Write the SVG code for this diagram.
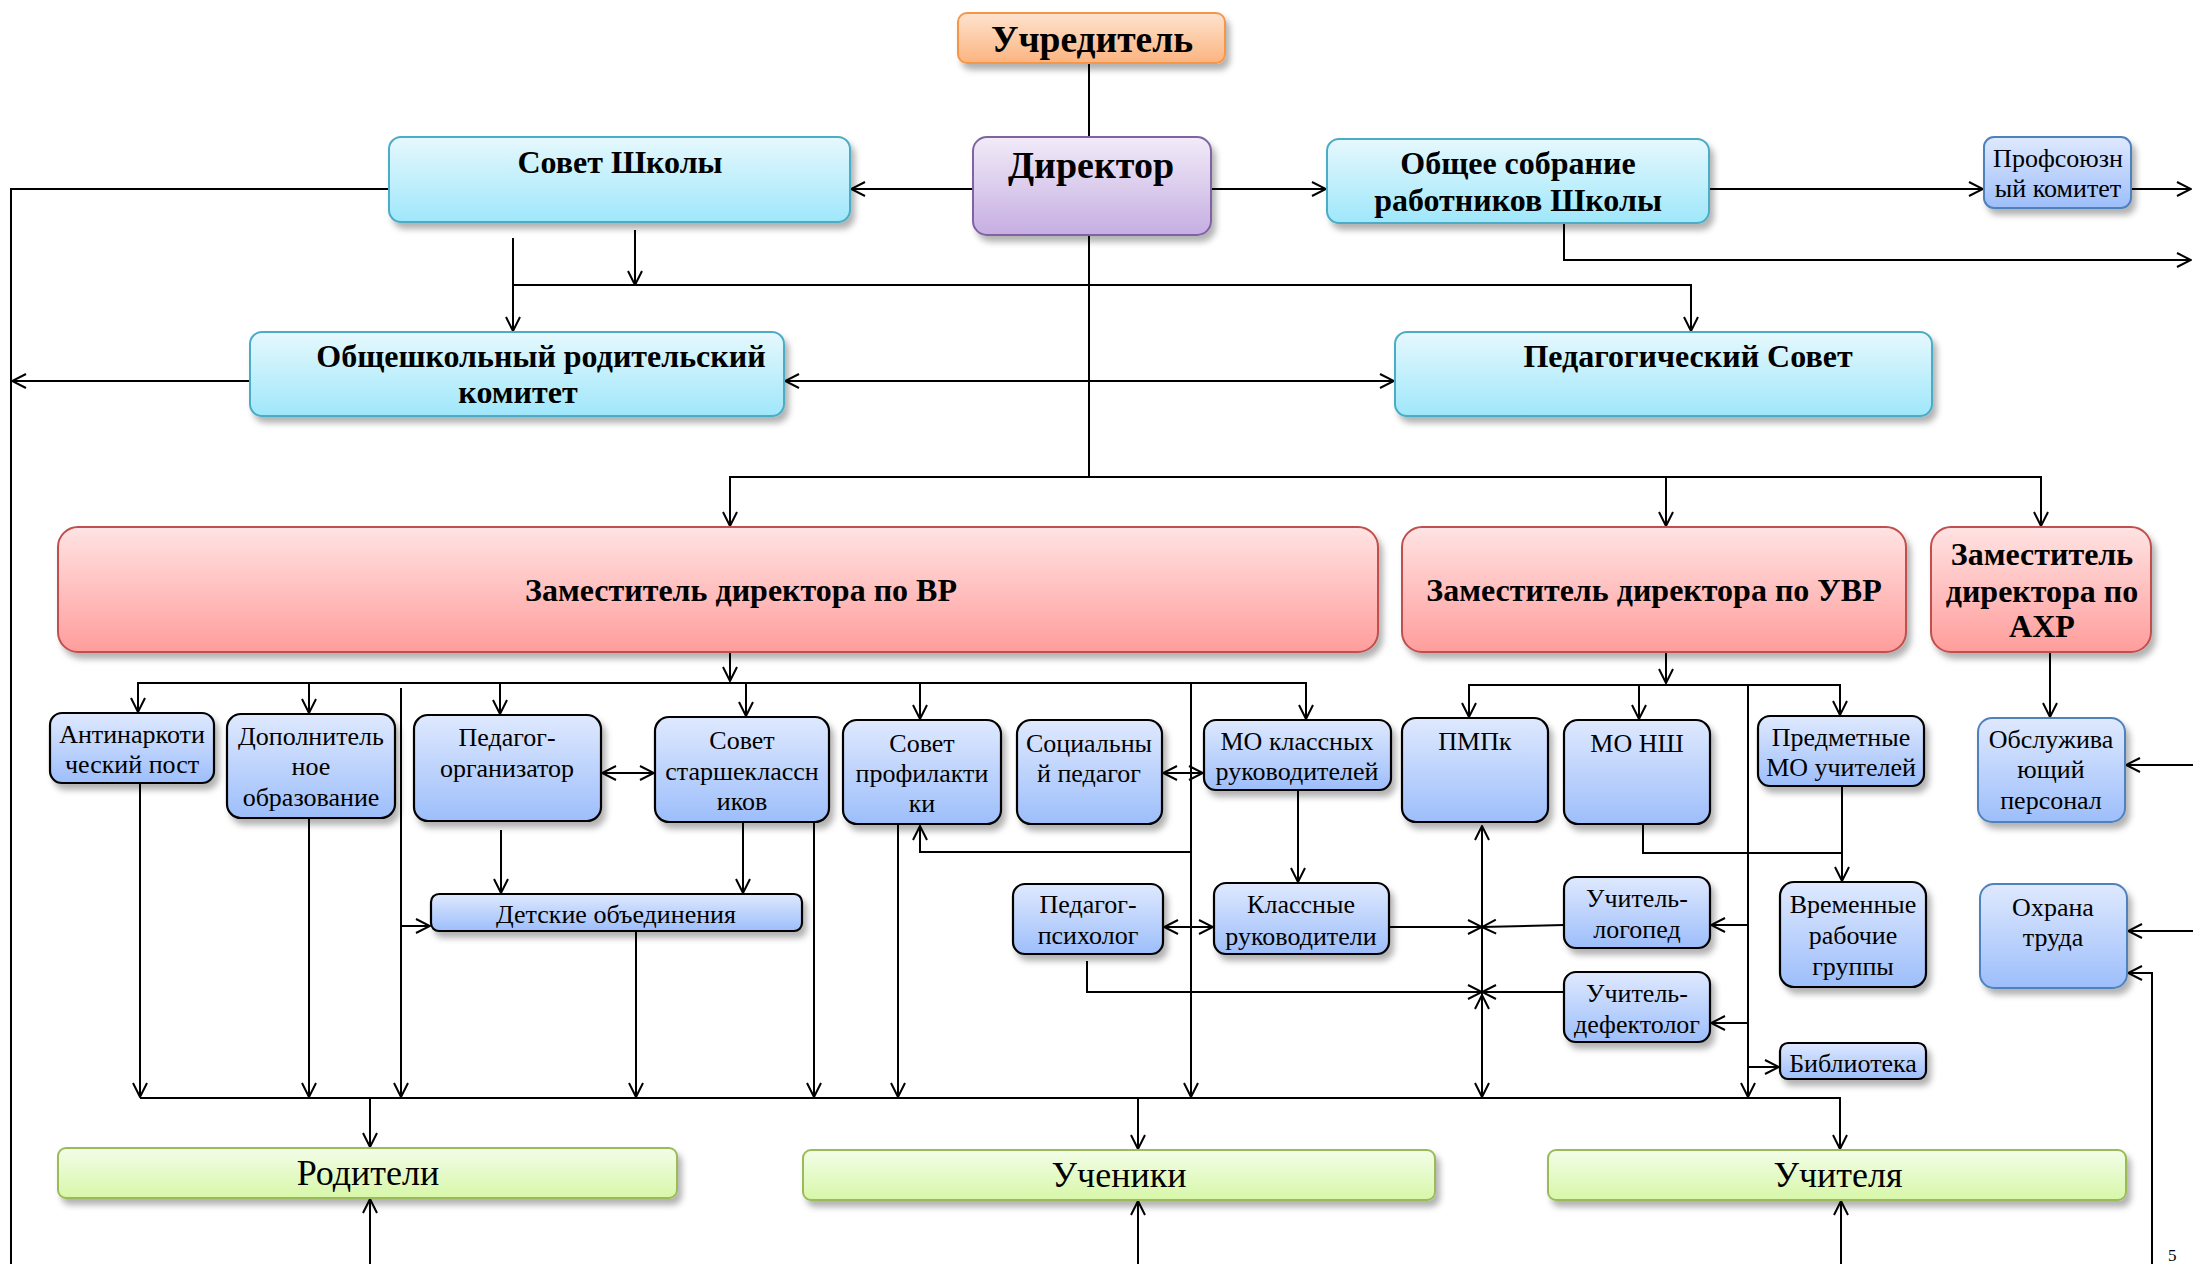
<svg xmlns="http://www.w3.org/2000/svg" width="2193" height="1264" viewBox="0 0 2193 1264">
<defs>
<style>
.ln{fill:none;stroke:#000;stroke-width:2}
.ar{marker-end:url(#ah)}
.bi{marker-start:url(#ah);marker-end:url(#ah)}
.b{font-family:"Liberation Serif","Times New Roman",serif;font-weight:bold;text-anchor:middle;fill:#000}
.r{font-family:"Liberation Serif","Times New Roman",serif;text-anchor:middle;fill:#000}
.or{fill:url(#gOr);stroke:#f79646;stroke-width:2;filter:url(#sh)}
.pu{fill:url(#gPu);stroke:#8064a2;stroke-width:2;filter:url(#sh)}
.cy{fill:url(#gCy);stroke:#4bacc6;stroke-width:2;filter:url(#sh)}
.rd{fill:url(#gRd);stroke:#c0504d;stroke-width:2;filter:url(#sh)}
.bb{fill:url(#gBl);stroke:#000;stroke-width:2.2;filter:url(#sh)}
.bs{fill:url(#gBl);stroke:#4f81bd;stroke-width:2;filter:url(#sh)}
.gr{fill:url(#gGr);stroke:#9bbb59;stroke-width:2;filter:url(#sh)}
</style>
<linearGradient id="gOr" x1="0" y1="0" x2="0" y2="1"><stop offset="0" stop-color="#fee3cf"/><stop offset="1" stop-color="#fbb47f"/></linearGradient>
<linearGradient id="gPu" x1="0" y1="0" x2="0" y2="1"><stop offset="0" stop-color="#f1ebf8"/><stop offset="1" stop-color="#c6aee2"/></linearGradient>
<linearGradient id="gCy" x1="0" y1="0" x2="0" y2="1"><stop offset="0" stop-color="#e6f8fd"/><stop offset="1" stop-color="#9fe7fb"/></linearGradient>
<linearGradient id="gRd" x1="0" y1="0" x2="0" y2="1"><stop offset="0" stop-color="#ffe3e3"/><stop offset="1" stop-color="#ff9d9b"/></linearGradient>
<linearGradient id="gBl" x1="0" y1="0" x2="0" y2="1"><stop offset="0" stop-color="#dfe9fe"/><stop offset="1" stop-color="#9dbefb"/></linearGradient>
<linearGradient id="gGr" x1="0" y1="0" x2="0" y2="1"><stop offset="0" stop-color="#f3fde8"/><stop offset="1" stop-color="#d7f7a8"/></linearGradient>
<filter id="sh" x="-10%" y="-20%" width="125%" height="160%"><feDropShadow dx="4" dy="6" stdDeviation="3" flood-color="#000" flood-opacity="0.3"/></filter>
<marker id="ah" viewBox="0 0 16 16" refX="15" refY="8" markerWidth="16" markerHeight="16" markerUnits="userSpaceOnUse" orient="auto-start-reverse"><path d="M1,1 L15,8 L1,15" fill="none" stroke="#000" stroke-width="2"/></marker>
</defs>
<rect width="2193" height="1264" fill="#fff"/>

<g id="connectors">
<path class="ln" d="M1089,63 V137"/>
<path class="ln ar" d="M973,189 H851"/>
<path class="ln ar" d="M1211,189 H1326"/>
<path class="ln ar" d="M1709,189 H1983"/>
<path class="ln ar" d="M2131,189 H2191"/>
<path class="ln ar" d="M1564,223 V260 H2191"/>
<path class="ln" d="M389,189 H11 V1264"/>
<path class="ln ar" d="M513,238 V331"/>
<path class="ln ar" d="M635,230 V285"/>
<path class="ln ar" d="M513,285 H1691 V331"/>
<path class="ln" d="M1089,235 V477"/>
<path class="ln ar" d="M250,381 H12"/>
<path class="ln bi" d="M785,381 H1394"/>
<path class="ln bi" d="M730,526 V477 H2041 V526"/>
<path class="ln ar" d="M1666,477 V526"/>
<path class="ln ar" d="M730,653 V681"/>
<path class="ln bi" d="M138,712 V683 H1306 V719"/>
<path class="ln ar" d="M309,683 V713"/>
<path class="ln ar" d="M500,683 V714"/>
<path class="ln ar" d="M746,683 V716"/>
<path class="ln ar" d="M920,683 V719"/>
<path class="ln ar" d="M401,688 V1097"/>
<path class="ln ar" d="M401,926 H430"/>
<path class="ln ar" d="M1191,683 V1097"/>
<path class="ln ar" d="M1191,852 H920 V826"/>
<path class="ln bi" d="M602,773 H654"/>
<path class="ln bi" d="M1163,773 H1203"/>
<path class="ln ar" d="M501,830 V893"/>
<path class="ln ar" d="M743,822 V893"/>
<path class="ln ar" d="M140,783 V1097"/>
<path class="ln ar" d="M309,818 V1097"/>
<path class="ln ar" d="M814,822 V1097"/>
<path class="ln ar" d="M898,824 V1097"/>
<path class="ln ar" d="M636,931 V1097"/>
<path class="ln ar" d="M140,1098 H1840 V1149"/>
<path class="ln ar" d="M370,1098 V1147"/>
<path class="ln ar" d="M1138,1098 V1149"/>
<path class="ln ar" d="M370,1264 V1199"/>
<path class="ln ar" d="M1138,1264 V1201"/>
<path class="ln ar" d="M1841,1264 V1201"/>
<path class="ln ar" d="M1298,790 V882"/>
<path class="ln bi" d="M1164,927 H1213"/>
<path class="ln ar" d="M1389,927 H1482"/>
<path class="ln ar" d="M1564,925 L1482,927"/>
<path class="ln ar" d="M1087,961 V992 H1482"/>
<path class="ln ar" d="M1564,992 H1482"/>
<path class="ln ar" d="M1482,994 V826"/>
<path class="ln ar" d="M1482,994 V1097"/>
<path class="ln ar" d="M1482,1097 V995"/>
<path class="ln ar" d="M1666,653 V683"/>
<path class="ln bi" d="M1469,717 V685 H1840 V715"/>
<path class="ln ar" d="M1639,685 V719"/>
<path class="ln ar" d="M1748,685 V1097"/>
<path class="ln ar" d="M1748,925 H1711"/>
<path class="ln ar" d="M1748,1023 H1711"/>
<path class="ln ar" d="M1748,1067 H1779"/>
<path class="ln ar" d="M1842,786 V881"/>
<path class="ln" d="M1643,824 V853 H1842"/>
<path class="ln ar" d="M2050,653 V717"/>
<path class="ln ar" d="M2193,765 H2126"/>
<path class="ln ar" d="M2193,931 H2128"/>
<path class="ln ar" d="M2152,1264 V973 H2128"/>
</g>

<g id="n-uchreditel"><rect class="or" x="958" y="13" width="267" height="50" rx="9"/><text class="b" x="1092" y="52" font-size="37.5">Учредитель</text></g>
<g id="n-direktor"><rect class="pu" x="973" y="137" width="238" height="98" rx="14"/><text class="b" x="1091" y="178" font-size="38">Директор</text></g>
<g id="n-sovet-shkoly"><rect class="cy" x="389" y="137" width="461" height="85" rx="12"/><text class="b" x="620" y="173" font-size="32">Совет Школы</text></g>
<g id="n-obshchee"><rect class="cy" x="1327" y="139" width="382" height="84" rx="12"/><text class="b" x="1518" y="174" font-size="32">Общее собрание</text><text class="b" x="1518" y="211" font-size="32">работников Школы</text></g>
<g id="n-profsoyuz"><rect class="bs" x="1984" y="137" width="147" height="71" rx="10"/><text class="r" x="2058" y="167" font-size="26">Профсоюзн</text><text class="r" x="2058" y="197" font-size="26">ый комитет</text></g>
<g id="n-roditkom"><rect class="cy" x="250" y="332" width="534" height="84" rx="12"/><text class="b" x="541" y="367" font-size="32">Общешкольный родительский</text><text class="b" x="518" y="403" font-size="32">комитет</text></g>
<g id="n-pedsovet"><rect class="cy" x="1395" y="332" width="537" height="84" rx="12"/><text class="b" x="1688" y="367" font-size="32">Педагогический Совет</text></g>

<g id="n-zam-vr"><rect class="rd" x="58" y="527" width="1320" height="125" rx="20"/><text class="b" x="741" y="601" font-size="32">Заместитель директора по ВР</text></g>
<g id="n-zam-uvr"><rect class="rd" x="1402" y="527" width="504" height="125" rx="20"/><text class="b" x="1654" y="601" font-size="32">Заместитель директора по УВР</text></g>
<g id="n-zam-ahr"><rect class="rd" x="1931" y="527" width="220" height="125" rx="20"/><text class="b" x="2042" y="565" font-size="32">Заместитель</text><text class="b" x="2042" y="602" font-size="32">директора по</text><text class="b" x="2042" y="637" font-size="32">АХР</text></g>

<g id="n-antinark"><rect class="bb" x="50" y="713" width="164" height="70" rx="12"/><text class="r" x="132" y="743" font-size="26">Антинаркоти</text><text class="r" x="132" y="773" font-size="26">ческий пост</text></g>
<g id="n-dop"><rect class="bb" x="227" y="714" width="168" height="104" rx="14"/><text class="r" x="311" y="745" font-size="26">Дополнитель</text><text class="r" x="311" y="775" font-size="26">ное</text><text class="r" x="311" y="806" font-size="26">образование</text></g>
<g id="n-pedorg"><rect class="bb" x="414" y="715" width="187" height="106" rx="14"/><text class="r" x="507" y="746" font-size="26">Педагог-</text><text class="r" x="507" y="777" font-size="26">организатор</text></g>
<g id="n-starshekl"><rect class="bb" x="655" y="717" width="174" height="105" rx="14"/><text class="r" x="742" y="749" font-size="26">Совет</text><text class="r" x="742" y="780" font-size="26">старшеклассн</text><text class="r" x="742" y="810" font-size="26">иков</text></g>
<g id="n-profilakt"><rect class="bb" x="843" y="720" width="158" height="104" rx="14"/><text class="r" x="922" y="752" font-size="26">Совет</text><text class="r" x="922" y="782" font-size="26">профилакти</text><text class="r" x="922" y="812" font-size="26">ки</text></g>
<g id="n-socped"><rect class="bb" x="1017" y="720" width="145" height="104" rx="14"/><text class="r" x="1089" y="752" font-size="26">Социальны</text><text class="r" x="1089" y="782" font-size="26">й педагог</text></g>
<g id="n-mo-kl"><rect class="bb" x="1204" y="720" width="187" height="70" rx="12"/><text class="r" x="1297" y="750" font-size="26">МО классных</text><text class="r" x="1297" y="780" font-size="26">руководителей</text></g>
<g id="n-pmpk"><rect class="bb" x="1402" y="718" width="146" height="104" rx="14"/><text class="r" x="1475" y="750" font-size="26">ПМПк</text></g>
<g id="n-mo-nsh"><rect class="bb" x="1564" y="720" width="146" height="104" rx="14"/><text class="r" x="1637" y="752" font-size="26">МО НШ</text></g>
<g id="n-predmet"><rect class="bb" x="1758" y="716" width="166" height="70" rx="12"/><text class="r" x="1841" y="746" font-size="26">Предметные</text><text class="r" x="1841" y="776" font-size="26">МО учителей</text></g>
<g id="n-obsl"><rect class="bs" x="1978" y="718" width="147" height="104" rx="14"/><text class="r" x="2051" y="748" font-size="26">Обслужива</text><text class="r" x="2051" y="778" font-size="26">ющий</text><text class="r" x="2051" y="809" font-size="26">персонал</text></g>

<g id="n-detskie"><rect class="bb" x="431" y="894" width="371" height="37" rx="8"/><text class="r" x="616" y="923" font-size="26">Детские объединения</text></g>
<g id="n-psiholog"><rect class="bb" x="1013" y="884" width="150" height="70" rx="12"/><text class="r" x="1088" y="913" font-size="26">Педагог-</text><text class="r" x="1088" y="944" font-size="26">психолог</text></g>
<g id="n-klassnye"><rect class="bb" x="1214" y="883" width="175" height="71" rx="12"/><text class="r" x="1301" y="913" font-size="26">Классные</text><text class="r" x="1301" y="945" font-size="26">руководители</text></g>
<g id="n-logoped"><rect class="bb" x="1564" y="877" width="146" height="71" rx="12"/><text class="r" x="1637" y="907" font-size="26">Учитель-</text><text class="r" x="1637" y="938" font-size="26">логопед</text></g>
<g id="n-defekt"><rect class="bb" x="1564" y="972" width="146" height="70" rx="12"/><text class="r" x="1637" y="1002" font-size="26">Учитель-</text><text class="r" x="1637" y="1033" font-size="26">дефектолог</text></g>
<g id="n-vremennye"><rect class="bb" x="1780" y="882" width="146" height="105" rx="14"/><text class="r" x="1853" y="913" font-size="26">Временные</text><text class="r" x="1853" y="944" font-size="26">рабочие</text><text class="r" x="1853" y="975" font-size="26">группы</text></g>
<g id="n-biblio"><rect class="bb" x="1780" y="1043" width="146" height="36" rx="8"/><text class="r" x="1853" y="1072" font-size="26">Библиотека</text></g>
<g id="n-ohrana"><rect class="bs" x="1980" y="884" width="147" height="104" rx="14"/><text class="r" x="2053" y="916" font-size="26">Охрана</text><text class="r" x="2053" y="946" font-size="26">труда</text></g>

<g id="n-roditeli"><rect class="gr" x="58" y="1148" width="619" height="50" rx="8"/><text class="r" x="368" y="1185" font-size="36">Родители</text></g>
<g id="n-ucheniki"><rect class="gr" x="803" y="1150" width="632" height="50" rx="8"/><text class="r" x="1119" y="1187" font-size="36">Ученики</text></g>
<g id="n-uchitelya"><rect class="gr" x="1548" y="1150" width="578" height="50" rx="8"/><text class="r" x="1838" y="1187" font-size="36">Учителя</text></g>

<text x="2168" y="1261" font-family="Liberation Serif, serif" font-size="17">5</text>
</svg>
